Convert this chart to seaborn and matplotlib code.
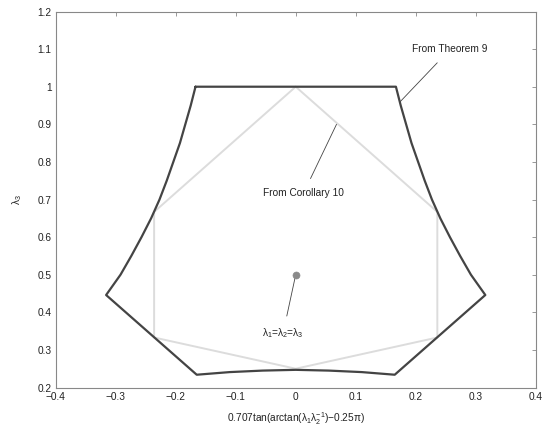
import pandas as pd
import matplotlib
matplotlib.use("Agg")
import matplotlib.pyplot as plt
import seaborn as sns

# boundary from Theorem 9 (closed path)
thm_x = [-0.167, 0.167,
         0.175, 0.184, 0.193, 0.204, 0.215, 0.227, 0.241, 0.257, 0.274,
         0.292, 0.316,
         0.165, 0.110, 0.055, 0.0, -0.055, -0.110, -0.165,
         -0.316, -0.292, -0.274, -0.257, -0.241, -0.227, -0.215, -0.204,
         -0.193, -0.184, -0.175, -0.167]
thm_y = [1.0, 1.0,
         0.950, 0.900, 0.850, 0.800, 0.750, 0.700, 0.650, 0.600, 0.550,
         0.500, 0.446,
         0.234, 0.241, 0.245, 0.247, 0.245, 0.241, 0.234,
         0.446, 0.500, 0.550, 0.600, 0.650, 0.700, 0.750, 0.800,
         0.850, 0.900, 0.950, 1.0]

# hexagon from Corollary 10
cor_x = [0.0, 0.236, 0.236, 0.0, -0.236, -0.236, 0.0]
cor_y = [1.0, 0.667, 0.333, 0.25, 0.333, 0.667, 1.0]

# equal-eigenvalue point
eq_x = [0.0]
eq_y = [0.5]

x_ticks = [-0.4, -0.3, -0.2, -0.1, 0.0, 0.1, 0.2, 0.3, 0.4]
x_labels = ["\u22120.4", "\u22120.3", "\u22120.2", "\u22120.1", "0",
            "0.1", "0.2", "0.3", "0.4"]
y_ticks = [0.2, 0.3, 0.4, 0.5, 0.6, 0.7, 0.8, 0.9, 1.0, 1.1, 1.2]
y_labels = ["0.2", "0.3", "0.4", "0.5", "0.6", "0.7", "0.8", "0.9", "1",
            "1.1", "1.2"]

sns.set_style("white")
plt.rcParams["font.family"] = ["Liberation Sans", "DejaVu Sans"]
plt.rcParams["mathtext.fontset"] = "custom"
plt.rcParams["mathtext.rm"] = "Liberation Sans"
plt.rcParams["mathtext.it"] = "Liberation Sans"

thm = pd.DataFrame({"x": thm_x, "y": thm_y})
cor = pd.DataFrame({"x": cor_x, "y": cor_y})
eq = pd.DataFrame({"x": eq_x, "y": eq_y})

fig = plt.figure(figsize=(5.43, 4.28), dpi=100)
ax = fig.add_axes([0.1026, 0.0946, 0.8840, 0.8785])

sns.lineplot(data=cor, x="x", y="y", sort=False, estimator=None,
             color="#dcdcdc", linewidth=1.4, ax=ax)
sns.lineplot(data=thm, x="x", y="y", sort=False, estimator=None,
             color="#444444", linewidth=1.6, ax=ax)
sns.scatterplot(data=eq, x="x", y="y", color="#8a8a8a", edgecolor="#8a8a8a",
                s=26, ax=ax, zorder=5)

ann_kw = dict(fontsize=7.3, color="#222222", ha="center", va="center",
              arrowprops=dict(arrowstyle="-", color="#444444", lw=0.6,
                              shrinkA=5, shrinkB=0))
ax.annotate("From Theorem 9", xy=(0.174, 0.960), xytext=(0.257, 1.099),
            **ann_kw)
ax.annotate("From Corollary 10", xy=(0.068, 0.900), xytext=(0.013, 0.717),
            **ann_kw)
ax.annotate("\u03bb$_1$=\u03bb$_2$=\u03bb$_3$", xy=(0.0, 0.5),
            xytext=(-0.021, 0.345), **ann_kw)

ax.set_xlim(-0.4, 0.4)
ax.set_ylim(0.2, 1.2)
ax.set_xticks(x_ticks)
ax.set_xticklabels(x_labels)
ax.set_yticks(y_ticks)
ax.set_yticklabels(y_labels)
ax.tick_params(direction="in", length=3, width=0.6, color="#888888",
               labelsize=7.3, labelcolor="#222222", top=True, right=True,
               pad=3)
for sp in ax.spines.values():
    sp.set_color("#888888")
    sp.set_linewidth(0.8)

ax.set_xlabel("0.707tan(arctan(\u03bb$_1$\u03bb$_2^{-1}$)\u22120.25\u03c0)",
              fontsize=7.3, color="#222222", labelpad=6)
ax.set_ylabel("\u03bb$_3$", fontsize=7.3, color="#222222", labelpad=10)

fig.savefig("out.png", dpi=100)
